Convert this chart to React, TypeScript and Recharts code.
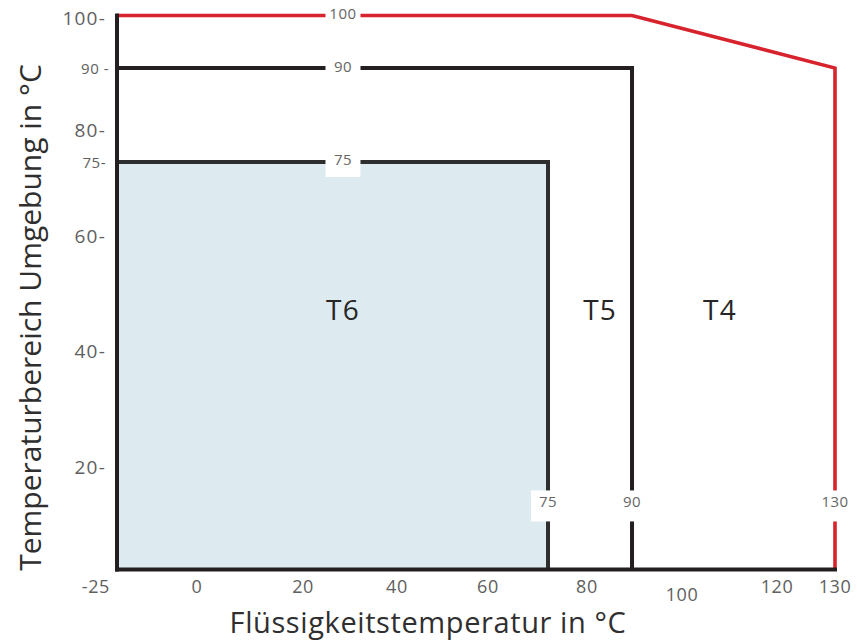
import React from 'react';
import { ComposedChart, Line, XAxis, YAxis, ReferenceArea, ReferenceDot } from 'recharts';

// ---------- data ----------
const xDomain = [-25, 130];
const yDomain = [0, 100];
const xTicks = [-25, 0, 20, 40, 60, 80, 100, 120, 130];
const yTicks = [20, 40, 60, 75, 80, 90, 100];
const yTickLabels = ['20-', '40-', '60-', '75-', '80-', '90 -', '100-'];

const t6Boundary = [
  { x: -25, y: 75 },
  { x: 75, y: 75 },
  { x: 75, y: 0 },
];
const t5Boundary = [
  { x: -25, y: 90 },
  { x: 90, y: 90 },
  { x: 90, y: 0 },
];
const t4Boundary = [
  { x: -25, y: 100 },
  { x: 90, y: 100 },
  { x: 130, y: 90 },
  { x: 130, y: 0 },
];
const t6Area = { x1: -25, x2: 75, y1: 0, y2: 75 };

const lineLabels = [
  { x: 28.5, y: 100, text: '100' },
  { x: 28.5, y: 90, text: '90' },
  { x: 28.5, y: 75, text: '75' },
];
const edgeLabels = [
  { x: 75, y: 12.5, text: '75' },
  { x: 90, y: 12.5, text: '90' },
  { x: 130, y: 12.5, text: '130' },
];
const classLabels = [
  { x: 28.5, y: 47.3, text: 'T6' },
  { x: 82.9, y: 47.3, text: 'T5' },
  { x: 108, y: 47.3, text: 'T4' },
];

// schematic (non-uniform) axis scales of the original drawing
const xScaleKnots = [-25, 0, 20, 40, 60, 75, 80, 90, 100, 120, 130];
const xScaleStops = [0, 0.1114, 0.2591, 0.39, 0.5167, 0.6003, 0.6546, 0.7173, 0.7869, 0.9192, 1];
const yScaleKnots = [0, 20, 40, 60, 75, 80, 90, 100];
const yScaleStops = [0, 0.185, 0.3944, 0.602, 0.7356, 0.7933, 0.9052, 1];

function piecewiseScale(knots: number[], stops: number[]): any {
  let dom: any[] = [knots[0], knots[knots.length - 1]];
  let rng: number[] = [0, 1];
  const n = knots.length;
  const frac = (v: number) => {
    if (v <= knots[0]) {
      const k = (stops[1] - stops[0]) / (knots[1] - knots[0]);
      return stops[0] + (v - knots[0]) * k;
    }
    if (v >= knots[n - 1]) {
      const k = (stops[n - 1] - stops[n - 2]) / (knots[n - 1] - knots[n - 2]);
      return stops[n - 1] + (v - knots[n - 1]) * k;
    }
    for (let i = 0; i < n - 1; i++) {
      if (v <= knots[i + 1]) {
        return stops[i] + ((v - knots[i]) / (knots[i + 1] - knots[i])) * (stops[i + 1] - stops[i]);
      }
    }
    return 1;
  };
  const unfrac = (f: number) => {
    for (let i = 0; i < n - 1; i++) {
      if (f <= stops[i + 1] || i === n - 2) {
        return knots[i] + ((f - stops[i]) / (stops[i + 1] - stops[i])) * (knots[i + 1] - knots[i]);
      }
    }
    return knots[n - 1];
  };
  const scale: any = (v: any) => {
    const num = Number(v);
    if (!Number.isFinite(num)) return undefined;
    return rng[0] + (rng[1] - rng[0]) * frac(num);
  };
  scale.domain = (d?: any) => {
    if (d === undefined) return dom.slice();
    dom = Array.from(d);
    return scale;
  };
  scale.range = (r?: any) => {
    if (r === undefined) return rng.slice();
    rng = Array.from(r).map(Number);
    return scale;
  };
  scale.rangeRound = (r?: any) => scale.range(r);
  scale.copy = () => piecewiseScale(knots, stops).domain(dom).range(rng);
  scale.ticks = () => knots.slice();
  scale.tickFormat = () => (v: any) => String(v);
  scale.invert = (px: number) => unfrac((px - rng[0]) / (rng[1] - rng[0]));
  scale.clamp = (c?: any) => (c === undefined ? false : scale);
  scale.nice = () => scale;
  scale.unknown = (u?: any) => (u === undefined ? undefined : scale);
  return scale;
}

const xScale = piecewiseScale(xScaleKnots, xScaleStops);
const yScale = piecewiseScale(yScaleKnots, yScaleStops);

// ---------- styles ----------
const FONT = '"Open Sans", "Noto Sans", sans-serif';
const RED = '#d7232e';
const BLACK = '#231f20';
const DARK = '#2e2e2e';
const FILL = '#ddeaef';
const TICK = '#606060';

const XTick = (props: any) => {
  const { x, y, payload } = props;
  const v = payload.value;
  const first = v === xDomain[0];
  const low = v === 100;
  return (
    <text
      x={first ? x - 7 : x}
      y={y + (low ? 16 : 8)}
      textAnchor={first ? 'end' : 'middle'}
      dominantBaseline="central"
      fill={TICK}
      fontSize={18}
      letterSpacing={0.6}
      fontFamily={FONT}
    >
      {v}
    </text>
  );
};

const YTick = (props: any) => {
  const { x, y, payload } = props;
  const i = yTicks.indexOf(payload.value);
  const small = payload.value === 75 || payload.value === 90;
  return (
    <text
      x={x - 3 + (payload.value === 90 ? 3 : 0)}
      y={y + (payload.value === 100 ? 2.5 : 0)}
      textAnchor="end"
      dominantBaseline="central"
      fill={TICK}
      fontSize={small ? 15 : 19}
      letterSpacing={small ? 0.5 : 1.2}
      fontFamily={FONT}
    >
      {yTickLabels[i]}
    </text>
  );
};

const XTitle = (props: any) => {
  const vb = props.viewBox || { x: 117, y: 569.5, width: 718, height: 72 };
  return (
    <text
      x={vb.x + vb.width / 2 - 48}
      y={vb.y + 63}
      textAnchor="middle"
      fill="#2f2f2f"
      fontSize={29}
      letterSpacing={0.6}
      fontFamily={FONT}
    >
      Flüssigkeitstemperatur in °C
    </text>
  );
};

const YTitle = (props: any) => {
  const vb = props.viewBox || { x: 0, y: 15.5, width: 117, height: 554 };
  const cx = vb.x + 29;
  const cy = vb.y + vb.height / 2 + 25;
  return (
    <text
      x={cx}
      y={cy}
      transform={`rotate(-90, ${cx}, ${cy})`}
      textAnchor="middle"
      dominantBaseline="central"
      fill="#2f2f2f"
      fontSize={30}
      fontFamily={FONT}
    >
      Temperaturbereich Umgebung in °C
    </text>
  );
};

const lineLabelShape = (text: string) => (props: any) => {
  const { cx, cy } = props;
  return (
    <g>
      <rect x={cx - 17.5} y={cy - 10} width={35} height={25} fill="#ffffff" />
      <text
        x={cx}
        y={cy - 2.5}
        textAnchor="middle"
        dominantBaseline="central"
        fill="#666666"
        fontSize={15}
        letterSpacing={0.5}
        fontFamily={FONT}
      >
        {text}
      </text>
    </g>
  );
};

const edgeLabelShape = (text: string) => (props: any) => {
  const { cx, cy } = props;
  return (
    <g>
      <rect x={cx - 17} y={cy - 15} width={34} height={31} fill="#ffffff" />
      <text
        x={cx}
        y={cy - 4}
        textAnchor="middle"
        dominantBaseline="central"
        fill="#666666"
        fontSize={15}
        letterSpacing={0.5}
        fontFamily={FONT}
      >
        {text}
      </text>
    </g>
  );
};

const classLabelShape = (text: string) => (props: any) => {
  const { cx, cy } = props;
  return (
    <text
      x={cx}
      y={cy}
      textAnchor="middle"
      dominantBaseline="central"
      fill="#262626"
      fontSize={28}
      letterSpacing={1.2}
      fontFamily={FONT}
    >
      {text}
    </text>
  );
};

export default function App() {
  return (
    <div style={{ position: 'absolute', left: 0, top: 0, background: '#fff' }}>
      <ComposedChart
        width={857}
        height={642}
        margin={{ top: 15.5, right: 22, bottom: 0, left: 0 }}
      >
        <XAxis
          type="number"
          dataKey="x"
          domain={xDomain}
          scale={xScale}
          ticks={xTicks}
          interval={0}
          height={72.5}
          tickLine={false}
          axisLine={{ stroke: BLACK, strokeWidth: 4, strokeLinecap: 'square' }}
          tick={<XTick />}
          label={<XTitle />}
        />
        <YAxis
          type="number"
          dataKey="y"
          domain={yDomain}
          scale={yScale}
          ticks={yTicks}
          interval={0}
          width={117}
          tickLine={false}
          axisLine={{ stroke: BLACK, strokeWidth: 4, strokeLinecap: 'square' }}
          tick={<YTick />}
          label={<YTitle />}
        />
        <ReferenceArea
          x1={t6Area.x1}
          x2={t6Area.x2}
          y1={t6Area.y1}
          y2={t6Area.y2}
          fill={FILL}
          fillOpacity={1}
          stroke="none"
          ifOverflow="visible"
        />
        <Line
          data={t6Boundary}
          dataKey="y"
          type="linear"
          stroke={DARK}
          strokeWidth={4}
          dot={false}
          activeDot={false}
          isAnimationActive={false}
          strokeLinejoin="miter"
        />
        <Line
          data={t5Boundary}
          dataKey="y"
          type="linear"
          stroke={BLACK}
          strokeWidth={4}
          dot={false}
          activeDot={false}
          isAnimationActive={false}
          strokeLinejoin="miter"
        />
        <Line
          data={t4Boundary}
          dataKey="y"
          type="linear"
          stroke={RED}
          strokeWidth={3.6}
          dot={false}
          activeDot={false}
          isAnimationActive={false}
          strokeLinejoin="miter"
        />
        {lineLabels.map((l) => (
          <ReferenceDot key={'ll' + l.text} x={l.x} y={l.y} r={0} ifOverflow="visible" shape={lineLabelShape(l.text)} />
        ))}
        {edgeLabels.map((l) => (
          <ReferenceDot key={'el' + l.text} x={l.x} y={l.y} r={0} ifOverflow="visible" shape={edgeLabelShape(l.text)} />
        ))}
        {classLabels.map((l) => (
          <ReferenceDot key={'cl' + l.text} x={l.x} y={l.y} r={0} ifOverflow="visible" shape={classLabelShape(l.text)} />
        ))}
      </ComposedChart>
    </div>
  );
}
